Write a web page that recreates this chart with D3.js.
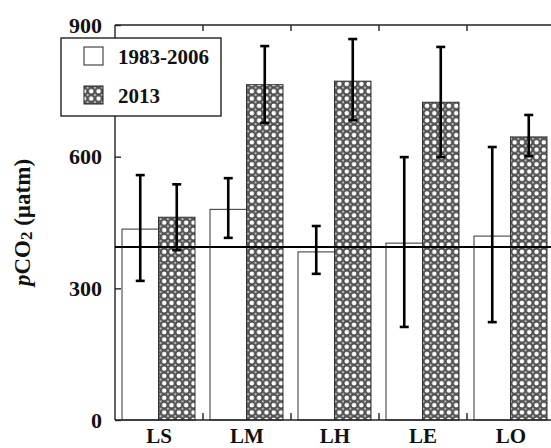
<!DOCTYPE html>
<html>
<head>
<meta charset="utf-8">
<script src="https://cdn.jsdelivr.net/npm/d3@7"></script>
<style>
  body { margin: 0; background: #fff; }
  svg text { font-family: "Liberation Serif", "DejaVu Serif", serif; font-weight: bold; fill: #111; }
</style>
</head>
<body>
<div id="chart"></div>
<script>
// values (uatm)
var sites = ["LS", "LM", "LH", "LE", "LO"];
var series = ["1983-2006", "2013"];
var oldMean = [435, 480, 383, 403, 419];
var oldLow  = [317, 415, 333, 212, 223];
var oldHigh = [558, 551, 442, 599, 622];
var newMean = [462, 764, 772, 724, 645];
var newLow  = [387, 677, 683, 599, 601];
var newHigh = [537, 852, 868, 850, 695];
var atmLevel = 394;
var yTicks = [0, 300, 600, 900];

var width = 551, height = 448;
var margin = {top: 25, right: -4, bottom: 28, left: 115};

var svg = d3.select("#chart").append("svg")
    .attr("width", width)
    .attr("height", height);

// pattern for the 2013 bars
var defs = svg.append("defs");
var pat = defs.append("pattern")
    .attr("id", "circles")
    .attr("patternUnits", "userSpaceOnUse")
    .attr("width", 7.3)
    .attr("height", 7.3);
pat.append("rect").attr("width", 7.3).attr("height", 7.3).attr("fill", "#5e5e5e");
pat.append("circle").attr("cx", 3.65).attr("cy", 3.65).attr("r", 2.8)
    .attr("fill", "#fff").attr("stroke", "#1a1a1a").attr("stroke-width", 0.7);
[[0, 0], [7.3, 0], [0, 7.3], [7.3, 7.3]].forEach(function(p) {
    pat.append("path")
        .attr("d", "M" + (p[0] - 1.2) + "," + p[1] + "L" + p[0] + "," + (p[1] - 1.2) +
                   "L" + (p[0] + 1.2) + "," + p[1] + "L" + p[0] + "," + (p[1] + 1.2) + "Z")
        .attr("fill", "#d8d8d8");
});

var x = d3.scaleBand()
    .domain(sites)
    .range([margin.left, width - margin.right]);

var xs = d3.scaleBand()
    .domain(series)
    .range([7, 80]);

var y = d3.scaleLinear()
    .domain([0, 900])
    .range([height - margin.bottom, margin.top]);

var fills = {"1983-2006": "#fff", "2013": "url(#circles)"};

var rows = [];
sites.forEach(function(s, i) {
    rows.push({site: s, ser: "1983-2006", v: oldMean[i], lo: oldLow[i], hi: oldHigh[i]});
    rows.push({site: s, ser: "2013", v: newMean[i], lo: newLow[i], hi: newHigh[i]});
});

// bars
svg.append("g").selectAll("rect")
    .data(rows)
    .join("rect")
        .attr("x", function(d) { return x(d.site) + xs(d.ser); })
        .attr("y", function(d) { return y(d.v); })
        .attr("width", xs.bandwidth())
        .attr("height", function(d) { return y(0) - y(d.v); })
        .attr("fill", function(d) { return fills[d.ser]; })
        .attr("stroke", "#333")
        .attr("stroke-width", 1);

// frame: left, top and bottom lines
var x0 = x.range()[0], x1 = x.range()[1];
var frame = svg.append("g").attr("stroke", "#222").attr("stroke-width", 1.4);
frame.append("line").attr("x1", x0).attr("x2", x0).attr("y1", y(900)).attr("y2", y(0));
frame.append("line").attr("x1", x0).attr("x2", x1).attr("y1", y(900)).attr("y2", y(900));
frame.append("line").attr("x1", x0).attr("x2", x1).attr("y1", y(0)).attr("y2", y(0));

// separator ticks between sites (top and bottom)
sites.slice(0, -1).forEach(function(s) {
    var bx = x(s) + x.bandwidth();
    frame.append("line").attr("x1", bx).attr("x2", bx).attr("y1", y(0)).attr("y2", y(0) - 7);
    frame.append("line").attr("x1", bx).attr("x2", bx).attr("y1", y(900)).attr("y2", y(900) + 6);
});

// y axis
var yAxis = svg.append("g")
    .attr("transform", "translate(" + x0 + ",0)")
    .call(d3.axisLeft(y).tickValues(yTicks).tickSize(-6).tickPadding(13));
yAxis.select(".domain").remove();
yAxis.selectAll("line").attr("stroke", "#222").attr("stroke-width", 1.4);
yAxis.selectAll("text")
    .style("font-family", "'Liberation Serif', serif")
    .style("font-weight", "bold")
    .style("font-size", "22px")
    .attr("fill", "#111");

// atmospheric level
svg.append("line")
    .attr("x1", x0).attr("x2", width)
    .attr("y1", y(atmLevel)).attr("y2", y(atmLevel))
    .attr("stroke", "#000").attr("stroke-width", 2);

// error bars
var err = svg.append("g").attr("stroke", "#000");
rows.forEach(function(d) {
    var cx = x(d.site) + xs(d.ser) + xs.bandwidth() / 2;
    err.append("line").attr("x1", cx).attr("x2", cx)
        .attr("y1", y(d.lo)).attr("y2", y(d.hi)).attr("stroke-width", 2.6);
    [d.lo, d.hi].forEach(function(v) {
        err.append("line").attr("x1", cx - 4.5).attr("x2", cx + 4.5)
            .attr("y1", y(v)).attr("y2", y(v)).attr("stroke-width", 2.6);
    });
});

// category labels
svg.append("g").selectAll("text")
    .data(sites)
    .join("text")
        .attr("x", function(d) { return x(d) + x.bandwidth() / 2; })
        .attr("y", 443)
        .attr("text-anchor", "middle")
        .style("font-size", "21px")
        .text(function(d) { return d; });

// y title
var yt = svg.append("text")
    .attr("transform", "translate(30," + ((y(0) + y(900)) / 2) + ") rotate(-90)")
    .attr("text-anchor", "middle")
    .style("font-size", "23px");
yt.append("tspan").attr("font-style", "italic").text("p");
yt.append("tspan").text("CO");
yt.append("tspan").style("font-size", "17px").attr("dy", 2).text("2");
yt.append("tspan").attr("dy", -2).text(" (µatm)");

// legend
var lg = svg.append("g");
lg.append("rect")
    .attr("x", 61).attr("y", 38).attr("width", 160).attr("height", 78)
    .attr("fill", "#fff").attr("stroke", "#222").attr("stroke-width", 1.4);
series.forEach(function(s, i) {
    var yy = 47 + i * 39;
    lg.append("rect")
        .attr("x", 84).attr("y", yy).attr("width", 19).attr("height", 18)
        .attr("fill", fills[s]).attr("stroke", "#222").attr("stroke-width", 1);
    lg.append("text")
        .attr("x", 118).attr("y", yy + 17)
        .style("font-size", "21px")
        .text(s);
});
</script>
</body>
</html>
